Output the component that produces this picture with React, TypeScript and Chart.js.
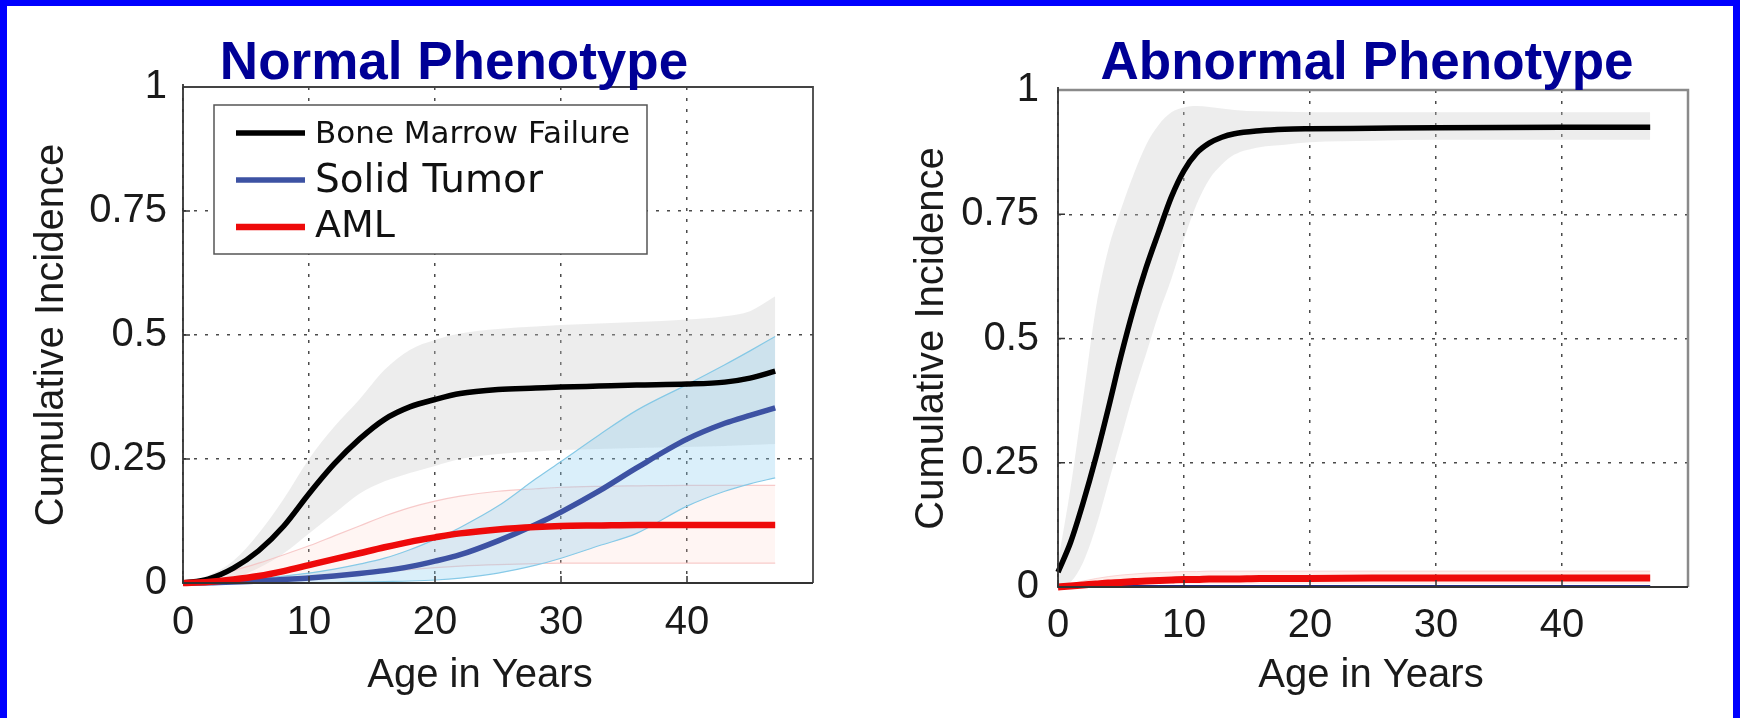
import { useEffect, useRef } from 'react';
import { Chart, registerables } from 'chart.js';

Chart.register(...registerables);

// ---------- data ----------
const yTickValues = [0, 0.25, 0.5, 0.75, 1];
const yTickLabels = ['0', '0.25', '0.5', '0.75', '1'];
const xTickValues = [0, 10, 20, 30, 40];
const xTickLabels = ['0', '10', '20', '30', '40'];

const legendLabels = ['Bone Marrow Failure', 'Solid Tumor', 'AML'];

// Normal phenotype
const normalAges = [0, 2, 4, 6, 8, 10, 12, 14, 16, 18, 20, 22, 25, 28, 30, 33, 36, 40, 43, 45, 47];
const normalBmf = [0, 0.008, 0.03, 0.065, 0.115, 0.18, 0.24, 0.29, 0.33, 0.355, 0.37, 0.382, 0.39, 0.393, 0.395, 0.397, 0.399, 0.401, 0.405, 0.413, 0.427];
const normalBmfHigh = [0, 0.015, 0.045, 0.1, 0.17, 0.25, 0.315, 0.37, 0.43, 0.47, 0.49, 0.503, 0.512, 0.517, 0.52, 0.523, 0.526, 0.531, 0.538, 0.548, 0.578];
const normalBmfLow = [0, 0.002, 0.01, 0.03, 0.06, 0.1, 0.14, 0.18, 0.205, 0.222, 0.236, 0.25, 0.26, 0.265, 0.268, 0.27, 0.272, 0.274, 0.276, 0.278, 0.28];
const normalSolid = [0, 0.0005, 0.002, 0.004, 0.007, 0.01, 0.014, 0.019, 0.025, 0.033, 0.044, 0.057, 0.085, 0.118, 0.143, 0.185, 0.232, 0.29, 0.322, 0.338, 0.353];
const normalSolidHigh = [0, 0.002, 0.005, 0.009, 0.014, 0.02, 0.028, 0.038, 0.05, 0.067, 0.088, 0.112, 0.155, 0.21, 0.245, 0.298, 0.348, 0.4, 0.44, 0.468, 0.497];
const normalSolidLow = [0, 0, 0, 0, 0, 0.0005, 0.001, 0.002, 0.003, 0.004, 0.006, 0.01, 0.02, 0.036, 0.05, 0.075, 0.1, 0.155, 0.185, 0.2, 0.212];
const normalAml = [0, 0.002, 0.007, 0.014, 0.024, 0.036, 0.048, 0.06, 0.072, 0.083, 0.092, 0.1, 0.108, 0.113, 0.115, 0.116, 0.117, 0.117, 0.117, 0.117, 0.117];
const normalAmlHigh = [0, 0.01, 0.025, 0.04, 0.057, 0.075, 0.095, 0.115, 0.135, 0.152, 0.165, 0.175, 0.185, 0.19, 0.193, 0.195, 0.196, 0.197, 0.197, 0.197, 0.197];
const normalAmlLow = [0, 0, 0.001, 0.002, 0.004, 0.008, 0.012, 0.017, 0.022, 0.027, 0.031, 0.034, 0.037, 0.039, 0.04, 0.04, 0.04, 0.04, 0.04, 0.04, 0.04];

// Abnormal phenotype
const abnormalAges = [0, 1, 2, 3, 4, 5, 6, 7, 8, 9, 10, 11, 12, 13, 14, 16, 18, 20, 25, 30, 40, 47];
const abnormalBmf = [0.03, 0.09, 0.17, 0.26, 0.36, 0.465, 0.56, 0.643, 0.715, 0.785, 0.838, 0.873, 0.893, 0.905, 0.912, 0.918, 0.921, 0.922, 0.923, 0.924, 0.925, 0.925];
const abnormalBmfHigh = [0.05, 0.2, 0.38, 0.56, 0.68, 0.76, 0.83, 0.89, 0.93, 0.955, 0.965, 0.968, 0.966, 0.963, 0.96, 0.957, 0.956, 0.955, 0.955, 0.955, 0.955, 0.955];
const abnormalBmfLow = [0, 0.01, 0.05, 0.12, 0.21, 0.3, 0.39, 0.47, 0.55, 0.62, 0.7, 0.77, 0.82, 0.85, 0.87, 0.885, 0.89, 0.895, 0.898, 0.9, 0.9, 0.9];
const abnormalSolid = [0.001, 0.001, 0.001, 0.001, 0.001, 0.001, 0.001, 0.001, 0.001, 0.001, 0.001, 0.001, 0.001, 0.001, 0.001, 0.001, 0.001, 0.001, 0.001, 0.001, 0.001, 0.001];
const abnormalAml = [0, 0.002, 0.004, 0.006, 0.008, 0.009, 0.011, 0.012, 0.013, 0.014, 0.015, 0.015, 0.016, 0.016, 0.016, 0.017, 0.017, 0.017, 0.018, 0.018, 0.018, 0.018];
const abnormalAmlHigh = [0, 0.006, 0.012, 0.017, 0.021, 0.024, 0.026, 0.028, 0.029, 0.03, 0.031, 0.031, 0.032, 0.032, 0.032, 0.032, 0.032, 0.032, 0.032, 0.032, 0.032, 0.032];
const abnormalAmlLow = [0, 0, 0.001, 0.002, 0.003, 0.004, 0.005, 0.005, 0.006, 0.006, 0.006, 0.006, 0.006, 0.006, 0.006, 0.006, 0.006, 0.006, 0.006, 0.006, 0.006, 0.006];

// ---------- styles ----------
const FONT = '"Liberation Sans", Arial, Helvetica, sans-serif';
const LEGEND_FONT = '"DejaVu Sans", Verdana, sans-serif';
const BLACK = '#000000';
const BLUE = '#3d52a3';
const RED = '#ee0a0a';
const TITLE_BLUE = '#000096';

const pts = (xs: number[], ys: number[]) => xs.map((x, i) => ({ x, y: ys[i] }));

function lineDs(label: string, xs: number[], ys: number[], color: string, width: number) {
  return {
    label,
    data: pts(xs, ys),
    borderColor: color,
    borderWidth: width,
    pointRadius: 0,
    fill: false,
    cubicInterpolationMode: 'monotone',
    clip: false,
  };
}

function bandDs(label: string, xs: number[], ys: number[], edge: string, edgeWidth: number, fillColor: string, fillNext: boolean) {
  return {
    label,
    data: pts(xs, ys),
    borderColor: edge,
    borderWidth: edgeWidth,
    backgroundColor: fillColor,
    pointRadius: 0,
    fill: fillNext ? '+1' : false,
    cubicInterpolationMode: 'monotone',
    clip: false,
  };
}

const framePlugin = {
  id: 'frame',
  afterDatasetsDraw(chart: any, _args: any, opts: any) {
    const { ctx, chartArea: a, scales } = chart;
    ctx.save();
    ctx.setLineDash([]);
    ctx.strokeStyle = opts.tickColor;
    ctx.lineWidth = 1.5;
    ctx.beginPath();
    for (const t of scales.x.ticks) {
      const px = scales.x.getPixelForValue(t.value);
      ctx.moveTo(px, a.bottom);
      ctx.lineTo(px, a.bottom - 7);
    }
    for (const t of scales.y.ticks) {
      const py = scales.y.getPixelForValue(t.value);
      ctx.moveTo(a.left, py);
      ctx.lineTo(a.left + 7, py);
    }
    ctx.stroke();
    ctx.strokeStyle = opts.topColor;
    ctx.lineWidth = opts.topWidth;
    ctx.beginPath();
    ctx.moveTo(a.left, a.top);
    ctx.lineTo(a.right, a.top);
    ctx.lineTo(a.right, a.bottom);
    ctx.stroke();
    ctx.strokeStyle = opts.axisColor;
    ctx.lineWidth = opts.axisWidth;
    ctx.beginPath();
    ctx.moveTo(a.left, a.top - 3);
    ctx.lineTo(a.left, a.bottom);
    ctx.lineTo(a.right, a.bottom);
    ctx.stroke();
    ctx.restore();
  },
};

const headingPlugin = {
  id: 'heading',
  afterDraw(chart: any, _args: any, opts: any) {
    const { ctx } = chart;
    ctx.save();
    ctx.font = `40px ${FONT}`;
    ctx.fillStyle = '#1a1a1a';
    ctx.textAlign = 'center';
    ctx.textBaseline = 'alphabetic';
    ctx.fillText(opts.xTitle, opts.xTitleX, opts.xTitleY);
    ctx.font = `bold 53px ${FONT}`;
    ctx.fillStyle = TITLE_BLUE;
    ctx.fillText(opts.text, opts.x, opts.y);
    ctx.restore();
  },
};

const boxLegendPlugin = {
  id: 'boxLegend',
  afterDraw(chart: any, _args: any, opts: any) {
    if (!opts.show) return;
    const { ctx } = chart;
    const ds = chart.data.datasets;
    ctx.save();
    ctx.fillStyle = '#ffffff';
    ctx.fillRect(214, 105, 433, 149);
    ctx.strokeStyle = '#555555';
    ctx.lineWidth = 1.5;
    ctx.strokeRect(214, 105, 433, 149);
    const rows = [
      { idx: 2, y: 133, base: 143, size: 31 },
      { idx: 1, y: 180, base: 192, size: 39 },
      { idx: 0, y: 227, base: 237, size: 38 },
    ];
    rows.forEach((r, i) => {
      ctx.strokeStyle = ds[r.idx].borderColor;
      ctx.lineWidth = i === 2 ? 6.5 : 5.5;
      ctx.beginPath();
      ctx.moveTo(236, r.y);
      ctx.lineTo(305, r.y);
      ctx.stroke();
      ctx.fillStyle = '#111111';
      ctx.font = `${r.size}px ${LEGEND_FONT}`;
      ctx.textAlign = 'left';
      ctx.textBaseline = 'alphabetic';
      ctx.fillText(legendLabels[i], 315, r.base);
    });
    ctx.restore();
  },
};

type PanelProps = {
  datasets: any[];
  title: string;
  titleX: number;
  xTitleX: number;
  area: { left: number; right: number; top: number; bottom: number };
  yTickPad: number;
  xTickPad: number;
  yTitlePad: number;
  showLegend: boolean;
  topColor: string;
  topWidth: number;
};

const W = 870;
const H = 718;

function Panel(p: PanelProps) {
  const ref = useRef<HTMLCanvasElement>(null);
  useEffect(() => {
    if (!ref.current) return;
    const tickFont = { family: FONT, size: 40 };
    const chart = new Chart(ref.current, {
      type: 'line',
      data: { datasets: p.datasets },
      plugins: [framePlugin, headingPlugin, boxLegendPlugin],
      options: {
        animation: false,
        responsive: false,
        devicePixelRatio: 1,
        layout: { padding: { top: p.area.top, right: W - p.area.right, left: 0, bottom: 0 } },
        scales: {
          x: {
            type: 'linear',
            min: 0,
            max: 50,
            afterFit: (s: any) => { s.height = H - p.area.bottom; },
            afterBuildTicks: (s: any) => { s.ticks = xTickValues.map((v) => ({ value: v })); },
            ticks: {
              font: tickFont,
              color: '#1a1a1a',
              padding: p.xTickPad,
              maxRotation: 0,
              callback: (v: any) => xTickLabels[xTickValues.indexOf(Number(v))] ?? '',
            },
            grid: { color: '#4a4a4a', lineWidth: 1.5, drawTicks: false },
            border: { display: false, dash: [3, 8] },
            title: { display: false },
          },
          y: {
            type: 'linear',
            min: 0,
            max: 1,
            afterFit: (s: any) => { s.width = p.area.left; },
            afterBuildTicks: (s: any) => { s.ticks = yTickValues.map((v) => ({ value: v })); },
            ticks: {
              font: tickFont,
              color: '#1a1a1a',
              padding: p.yTickPad,
              callback: (v: any) => yTickLabels[yTickValues.indexOf(Number(v))] ?? '',
            },
            grid: { color: '#4a4a4a', lineWidth: 1.5, drawTicks: false },
            border: { display: false, dash: [3, 8] },
            title: { display: true, text: 'Cumulative Incidence', font: { family: FONT, size: 40 }, color: '#1a1a1a', padding: { top: p.yTitlePad, bottom: 0 } },
          },
        },
        plugins: {
          legend: { display: false },
          tooltip: { enabled: false },
          frame: { tickColor: '#333333', topColor: p.topColor, topWidth: p.topWidth, axisColor: '#333333', axisWidth: 1.8 },
          heading: { text: p.title, x: p.titleX, y: 79, xTitle: 'Age in Years', xTitleX: p.xTitleX, xTitleY: 687 },
          boxLegend: { show: p.showLegend },
        } as any,
      } as any,
    });
    return () => chart.destroy();
  }, []);
  return <canvas ref={ref} width={W} height={H} style={{ display: 'block', width: W, height: H }} />;
}

const normalDatasets = [
  lineDs('AML', normalAges, normalAml, RED, 6.5),
  lineDs('Solid Tumor', normalAges, normalSolid, BLUE, 5.5),
  lineDs('Bone Marrow Failure', normalAges, normalBmf, BLACK, 5.5),
  bandDs('Solid Tumor upper', normalAges, normalSolidHigh, '#86c9e6', 1.2, 'rgba(140,205,240,0.32)', true),
  bandDs('Solid Tumor lower', normalAges, normalSolidLow, '#86c9e6', 1.2, 'rgba(0,0,0,0)', false),
  bandDs('AML upper', normalAges, normalAmlHigh, 'rgba(245,190,190,0.8)', 1.2, 'rgba(255,200,190,0.18)', true),
  bandDs('AML lower', normalAges, normalAmlLow, 'rgba(245,190,190,0.8)', 1.2, 'rgba(0,0,0,0)', false),
  bandDs('BMF upper', normalAges, normalBmfHigh, 'rgba(0,0,0,0)', 0, 'rgba(200,200,200,0.33)', true),
  bandDs('BMF lower', normalAges, normalBmfLow, 'rgba(0,0,0,0)', 0, 'rgba(0,0,0,0)', false),
];

const abnormalDatasets = [
  lineDs('AML', abnormalAges, abnormalAml, RED, 7),
  lineDs('Solid Tumor', abnormalAges, abnormalSolid, '#1f2a80', 3),
  lineDs('Bone Marrow Failure', abnormalAges, abnormalBmf, BLACK, 5.5),
  bandDs('AML upper', abnormalAges, abnormalAmlHigh, 'rgba(245,190,190,0.6)', 1, 'rgba(255,200,190,0.3)', true),
  bandDs('AML lower', abnormalAges, abnormalAmlLow, 'rgba(0,0,0,0)', 0, 'rgba(0,0,0,0)', false),
  bandDs('BMF upper', abnormalAges, abnormalBmfHigh, 'rgba(0,0,0,0)', 0, 'rgba(200,200,200,0.33)', true),
  bandDs('BMF lower', abnormalAges, abnormalBmfLow, 'rgba(0,0,0,0)', 0, 'rgba(0,0,0,0)', false),
];

export default function App() {
  useEffect(() => {
    document.body.style.margin = '0';
  }, []);
  return (
    <div style={{ position: 'fixed', left: 0, top: 0, width: 1740, height: 718, background: '#ffffff', overflow: 'hidden' }}>
      <div style={{ position: 'absolute', left: 0, top: 0 }}>
        <Panel
          datasets={normalDatasets}
          title="Normal Phenotype"
          titleX={454}
          xTitleX={480}
          area={{ left: 183, right: 813, top: 87, bottom: 583 }}
          yTickPad={16}
          xTickPad={16}
          yTitlePad={28}
          showLegend={true}
          topColor="#444444"
          topWidth={1.8}
        />
      </div>
      <div style={{ position: 'absolute', left: 870, top: 0 }}>
        <Panel
          datasets={abnormalDatasets}
          title="Abnormal Phenotype"
          titleX={497}
          xTitleX={501}
          area={{ left: 188, right: 818, top: 90, bottom: 587 }}
          yTickPad={19}
          xTickPad={15}
          yTitlePad={38}
          showLegend={false}
          topColor="#8a8a8a"
          topWidth={2.5}
        />
      </div>
      <div style={{ position: 'absolute', left: 0, top: 0, width: 1740, height: 6, background: '#0000ff' }} />
      <div style={{ position: 'absolute', left: 0, top: 0, width: 7, height: 718, background: '#0000ff' }} />
      <div style={{ position: 'absolute', right: 0, top: 0, width: 7, height: 718, background: '#0000ff' }} />
    </div>
  );
}
